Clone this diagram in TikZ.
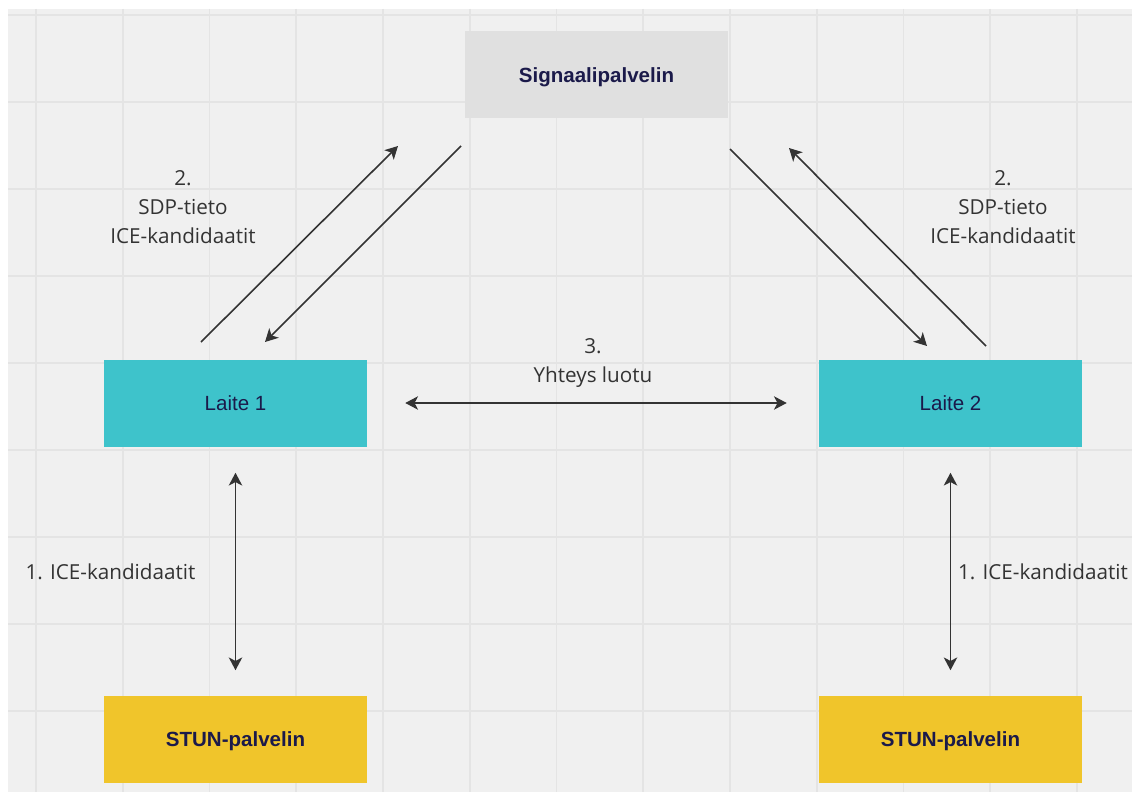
\documentclass[tikz,border=0pt]{standalone}
\usepackage{fontspec}
\setmainfont{Open Sans}
\newfontfamily\boxfont{Liberation Sans}
\usetikzlibrary{arrows.meta}

\definecolor{bgGray}{HTML}{F0F0F0}
\definecolor{gridGray}{HTML}{E4E4E4}
\definecolor{signalGray}{HTML}{E0E0E0}
\definecolor{laiteTeal}{HTML}{3EC3CB}
\definecolor{stunYellow}{HTML}{F0C52B}
\definecolor{inkNavy}{HTML}{1B1A4A}
\definecolor{arrowGray}{HTML}{333333}

\def\xMin{8}
\def\xMax{1132}
\def\yMin{9}
\def\yMax{792}

\begin{document}
\begin{tikzpicture}[x=0.75pt, y=-0.75pt, >={Stealth[length=9.5pt,width=10pt,inset=2.5pt]},
    box/.style={minimum width=197.25pt, minimum height=65.25pt, inner sep=0pt,
      text height=11pt, text depth=0pt,
      font=\boxfont\fontsize{15.4}{18}\selectfont, text=inkNavy},
    lbl/.style={align=center, text=arrowGray, inner sep=0pt,
      font=\fontsize{15.5}{21.75}\selectfont},
    link/.style={draw=arrowGray, line width=1.2pt}]
        \useasboundingbox (0,0) rectangle (1132,792);
        \fill[white] (0,0) rectangle (1132,792);
        \fill[bgGray] (\xMin,\yMin) rectangle (\xMax,\yMax);
        \foreach \i in {0,...,12} {
            \draw [gridGray, line width=1.2pt] ({36+86.75*\i},\yMin) -- ({36+86.75*\i},\yMax);
        }
        \foreach \i in {0,...,8} {
            \draw [gridGray, line width=1.2pt] (\xMin,{15+87*\i}) -- (\xMax,{15+87*\i});
        }
        % boxes
        \node[box, fill=signalGray, font=\boxfont\bfseries\fontsize{15.4}{18}\selectfont] (signal) at (596.5,75) {Signaalipalvelin};
        \node[box, fill=laiteTeal] (laite1) at (235.5,403) {Laite 1};
        \node[box, fill=laiteTeal] (laite2) at (950.5,403) {Laite 2};
        \node[box, fill=stunYellow, font=\boxfont\bfseries\fontsize{15.4}{18}\selectfont] (stun1) at (235.5,739) {STUN-palvelin};
        \node[box, fill=stunYellow, font=\boxfont\bfseries\fontsize{15.4}{18}\selectfont] (stun2) at (950.5,739) {STUN-palvelin};
        % labels
        \node[lbl] (sdp1) at (183,207) {2.\\SDP-tieto\\ICE-kandidaatit};
        \node[lbl] (sdp2) at (1003,207) {2.\\SDP-tieto\\ICE-kandidaatit};
        \node[lbl] (yhteys) at (593,363) {3.\\Yhteys luotu};
        \node[lbl] (ice1) at (110.5,572) {1. ICE-kandidaatit};
        \node[lbl] (ice2) at (1043,572) {1. ICE-kandidaatit};
        % signalling arrows
        \coordinate (up1s) at (201,342);
        \coordinate (up1e) at (398,146);
        \coordinate (dn1s) at (461,146);
        \coordinate (dn1e) at (265,342);
        \coordinate (dn2s) at (730,149);
        \coordinate (dn2e) at (927,346);
        \coordinate (up2s) at (986,346);
        \coordinate (up2e) at (789,148);
        \draw[link, ->] (up1s) -- (up1e);
        \draw[link, ->] (dn1s) -- (dn1e);
        \draw[link, ->] (dn2s) -- (dn2e);
        \draw[link, ->] (up2s) -- (up2e);
        % connection and STUN arrows
        \draw[link, <->, shorten <=28.5pt, shorten >=24pt] (laite1.east) -- (laite2.west);
        \draw[link, <->, shorten <=19.5pt, shorten >=18.75pt] (laite1.south) -- (stun1.north);
        \draw[link, <->, shorten <=19.5pt, shorten >=18.75pt] (laite2.south) -- (stun2.north);
      \end{tikzpicture}
\end{document}
